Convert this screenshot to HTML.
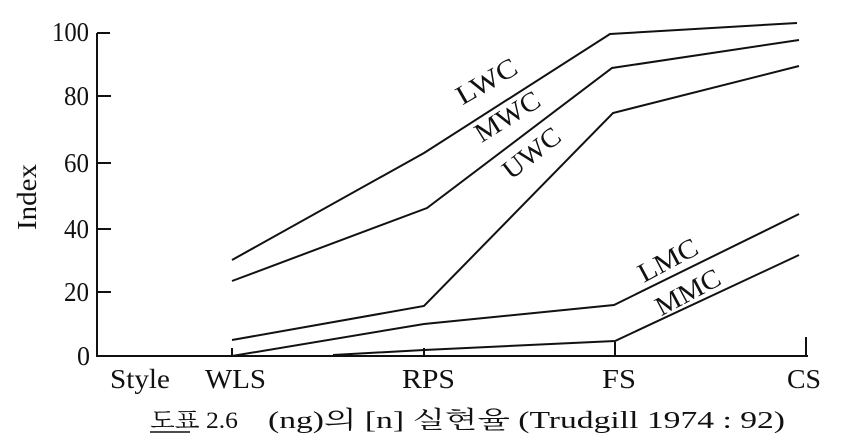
<!DOCTYPE html>
<html><head><meta charset="utf-8"><style>
html,body{margin:0;padding:0;background:#fff;}
svg{display:block;}
text{font-family:"Liberation Serif","Noto Serif CJK SC",serif;fill:#111;}
</style></head><body>
<svg width="843" height="438" viewBox="0 0 843 438">
<g stroke="#111" stroke-width="2" fill="none">
<line x1="97" y1="33" x2="97" y2="357"/>
<line x1="96" y1="356" x2="808" y2="356"/>
<line x1="97" y1="33" x2="110" y2="33"/>
<line x1="97" y1="96" x2="111" y2="96"/>
<line x1="97" y1="163" x2="111" y2="163"/>
<line x1="97" y1="229" x2="111" y2="229"/>
<line x1="97" y1="292" x2="111" y2="292"/>
<line x1="232" y1="348" x2="232" y2="356"/>
<line x1="424" y1="348" x2="424" y2="356"/>
<line x1="615" y1="342" x2="615" y2="356"/>
<line x1="806" y1="337" x2="806" y2="356"/>
<polyline points="232,260 424,153 610,34 797,23"/>
<polyline points="232,281 427,208 612,68 799,40"/>
<polyline points="232,340 424,306 613,113 799,66"/>
<polyline points="232,356 424,324 614,305 799,214"/>
<polyline points="333,355 424,350 615,341 799,255"/>
</g>
<g font-size="27">
<text x="52" y="41" textLength="37" lengthAdjust="spacingAndGlyphs">100</text>
<text x="64" y="105" textLength="25" lengthAdjust="spacingAndGlyphs">80</text>
<text x="64" y="172" textLength="25" lengthAdjust="spacingAndGlyphs">60</text>
<text x="64" y="238" textLength="25" lengthAdjust="spacingAndGlyphs">40</text>
<text x="64" y="301" textLength="25" lengthAdjust="spacingAndGlyphs">20</text>
<text x="77" y="365" textLength="13" lengthAdjust="spacingAndGlyphs">0</text>
<text x="110" y="388" textLength="60" lengthAdjust="spacingAndGlyphs">Style</text>
<text x="205" y="388" textLength="61" lengthAdjust="spacingAndGlyphs">WLS</text>
<text x="402" y="388" textLength="53" lengthAdjust="spacingAndGlyphs">RPS</text>
<text x="602" y="388" textLength="34" lengthAdjust="spacingAndGlyphs">FS</text>
<text x="787" y="388" textLength="34" lengthAdjust="spacingAndGlyphs">CS</text>
<text transform="translate(36,197) rotate(-90)" text-anchor="middle" textLength="66" lengthAdjust="spacingAndGlyphs">Index</text>
<text transform="translate(491,89) rotate(-30)" text-anchor="middle" textLength="66" lengthAdjust="spacingAndGlyphs">LWC</text>
<text transform="translate(512,124) rotate(-32)" text-anchor="middle" textLength="72" lengthAdjust="spacingAndGlyphs">MWC</text>
<text transform="translate(537,160) rotate(-38)" text-anchor="middle" textLength="66" lengthAdjust="spacingAndGlyphs">UWC</text>
<text transform="translate(672,268) rotate(-28)" text-anchor="middle" textLength="64" lengthAdjust="spacingAndGlyphs">LMC</text>
<text transform="translate(692,300) rotate(-28)" text-anchor="middle" textLength="70" lengthAdjust="spacingAndGlyphs">MMC</text>
</g>
<text x="150" y="428" font-size="23" textLength="88" lengthAdjust="spacingAndGlyphs">도표 2.6</text>
<line x1="150" y1="432" x2="190" y2="432" stroke="#111" stroke-width="1.5"/>
<text x="268" y="428" font-size="24" textLength="517" lengthAdjust="spacingAndGlyphs">(ng)의 [n] 실현율 (Trudgill 1974 : 92)</text>
</svg>
</body></html>
